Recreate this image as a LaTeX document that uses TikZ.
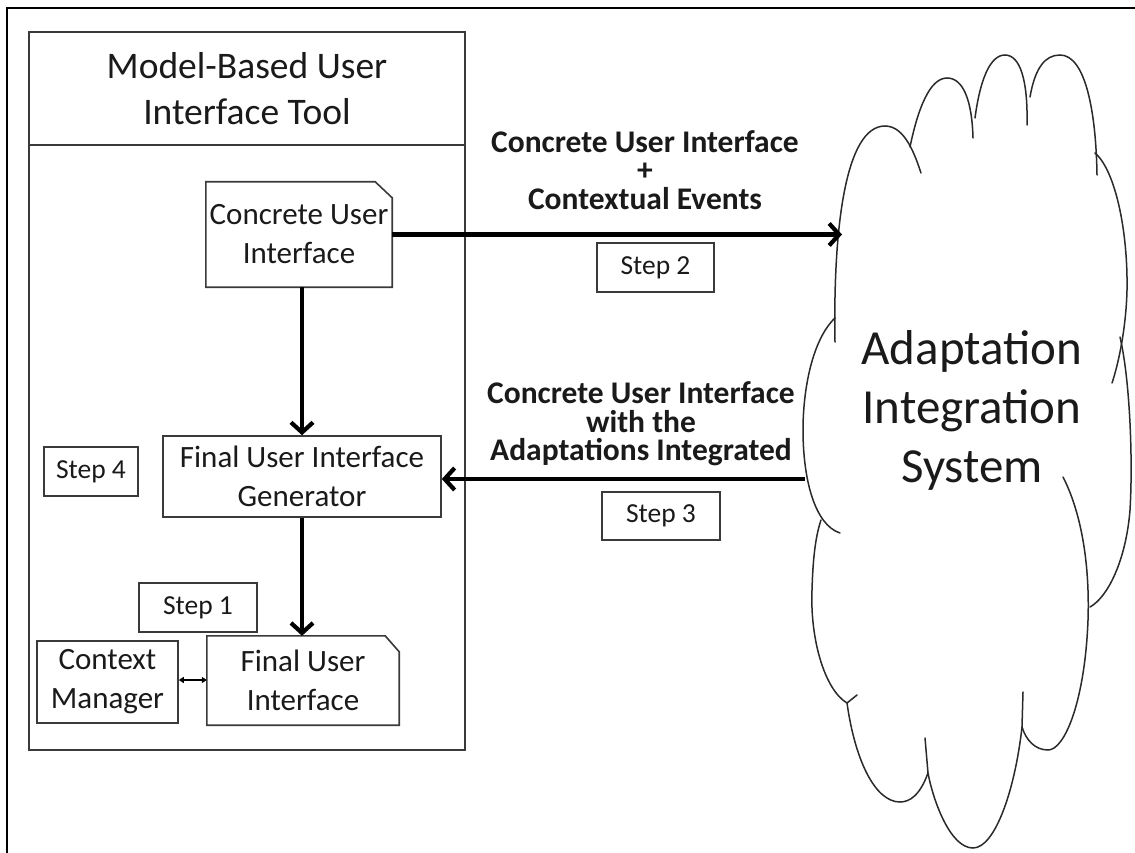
\documentclass[tikz,border=0pt]{standalone}
\usepackage{fontspec}
\setmainfont{Carlito}
\usetikzlibrary{arrows.meta}

\definecolor{txt}{HTML}{1A1A1A}
\definecolor{boxgray}{HTML}{3A3A3A}
\definecolor{cloudgray}{HTML}{2A2A2A}

% chamfered outline for the document-like nodes
\newcommand\docframe[3]{%
  \draw[boxline] (#1.south west) -- (#1.north west) -- ([xshift=-#2]#1.north east)
    -- ([yshift=-#3]#1.north east) -- (#1.south east) -- cycle;}

\begin{document}
\begin{tikzpicture}[x=1pt,y=-1pt,
  boxline/.style={draw=boxgray, line width=1.6pt},
  plainbox/.style={boxline, fill=white, inner sep=0pt, align=center, text=txt,
    font=\fontsize{31}{39}\selectfont},
  docnode/.style={inner sep=0pt, align=center, text=txt,
    font=\fontsize{31}{39}\selectfont},
  stepbox/.style={boxline, inner sep=0pt, align=center, text=txt,
    font=\fontsize{27.5}{32}\selectfont},
  flowlabel/.style={align=center, text=txt, inner sep=0pt,
    font=\fontsize{31.5}{28.5}\selectfont\bfseries},
  bigarrow/.style={line width=4.2pt, -{Straight Barb[length=10pt,width=22pt]}},
  smallarrow/.style={line width=1.8pt,
    {Triangle[length=5pt,width=6pt]}-{Triangle[length=5pt,width=6pt]}},
  cloudline/.style={draw=cloudgray, line width=1.5pt, line cap=round},
  frame/.style={draw=black, line width=2.4pt}]

\useasboundingbox[fill=white] (0,0) rectangle (1135,853);

% outer frame (runs off the page on the right and at the bottom)
\draw[frame] (7,870) -- (7,8) -- (1150,8);

% tool container with its title strip
\node[boxline, minimum width=436pt, minimum height=718pt, inner sep=0pt] (tool) at (247,391) {};
\coordinate (hdr) at (247,145);
\draw[boxline] (tool.west |- hdr) -- (tool.east |- hdr);
\node[align=center, text=txt, font=\fontsize{37.5}{46}\selectfont] (tooltitle) at (247,89)
  {Model-Based User\\Interface Tool};

% components inside the tool
\node[docnode, minimum width=186pt, minimum height=105pt] (cui) at (299,234.5)
  {Concrete User\\Interface};
\docframe{cui}{17pt}{16pt}

\node[plainbox, minimum width=278pt, minimum height=81pt] (gen) at (302,476.5)
  {Final User Interface\\Generator};

\node[docnode, minimum width=192pt, minimum height=89pt] (fui) at (303,680.5)
  {Final User\\Interface};
\docframe{fui}{14pt}{16pt}

\node[plainbox, minimum width=141pt, minimum height=82pt] (ctx) at (107.5,682)
  {Context\\Manager};

% step tags
\node[stepbox, minimum width=94pt, minimum height=49pt] (step4) at (91,471.5) {Step 4};
\node[stepbox, minimum width=118pt, minimum height=49pt] (step1) at (198,607.5) {Step 1};
\node[stepbox, minimum width=117pt, minimum height=49pt] (step2) at (655.5,267.5) {Step 2};
\node[stepbox, minimum width=118pt, minimum height=48pt] (step3) at (661,516) {Step 3};

% message labels
\node[flowlabel] (msgout) at (645,170)
  {Concrete User Interface\\+\\Contextual Events};
\node[flowlabel] (msgin) at (641,424)
  {Concrete User Interface\\with the\\Adaptations Integrated};

% cloud outline, lobe by lobe
\draw[cloudline] (835,342) .. controls (833,230) and (845,126) .. (885,126)
  .. controls (905,126) and (915,155) .. (921,173);
\draw[cloudline] (910,147) .. controls (918,108) and (930,78) .. (947,78)
  .. controls (963,78) and (972,100) .. (973,138);
\draw[cloudline] (975,118) .. controls (980,80) and (990,55) .. (1005,55)
  .. controls (1020,55) and (1028,80) .. (1027,125);
\draw[cloudline] (1030,97) .. controls (1035,68) and (1045,55) .. (1060,55)
  .. controls (1085,55) and (1096,110) .. (1097,175);
\draw[cloudline] (1095,153) .. controls (1115,170) and (1128,230) .. (1127,290)
  .. controls (1126,330) and (1118,365) .. (1112,383);
\draw[cloudline] (1120,337) .. controls (1130,380) and (1133,460) .. (1130,510)
  .. controls (1126,560) and (1108,597) .. (1090,607);
\draw[cloudline] (1063,477) .. controls (1080,510) and (1090,560) .. (1088,620)
  .. controls (1085,700) and (1065,750) .. (1048,750)
  .. controls (1035,750) and (1026,740) .. (1022,727);
\draw[cloudline] (1023,692) -- (1022,727) .. controls (1015,790) and (995,848) .. (973,848)
  .. controls (950,848) and (933,800) .. (928,773);
\draw[cloudline] (925,738) -- (928,773) .. controls (920,795) and (910,802) .. (900,802)
  .. controls (875,802) and (855,760) .. (847,703) -- (857,695);
\draw[cloudline] (847,703) .. controls (825,690) and (810,640) .. (812,590)
  .. controls (813,555) and (816,535) .. (821,520);
\draw[cloudline] (835,318) .. controls (812,340) and (803,390) .. (803,430)
  .. controls (803,480) and (815,525) .. (840,533);

\node[align=center, text=txt, font=\fontsize{49}{59}\selectfont] (ais) at (972,410)
  {Adaptation\\Integration\\System};

\coordinate (cloudin) at (842,235);
\coordinate (cloudout) at (805,479);
\coordinate (linkrow) at (190,680);

% connectors
\draw[bigarrow] (gen.north |- cui.south) -- (gen.north);
\draw[bigarrow] (gen.south) -- (gen.south |- fui.north);
\draw[bigarrow] (cui.east) -- (cui.east -| cloudin);
\draw[bigarrow] (cloudout) -- (cloudout -| gen.east);
\draw[smallarrow] (ctx.east |- linkrow) -- (fui.west |- linkrow);

\end{tikzpicture}
\end{document}
